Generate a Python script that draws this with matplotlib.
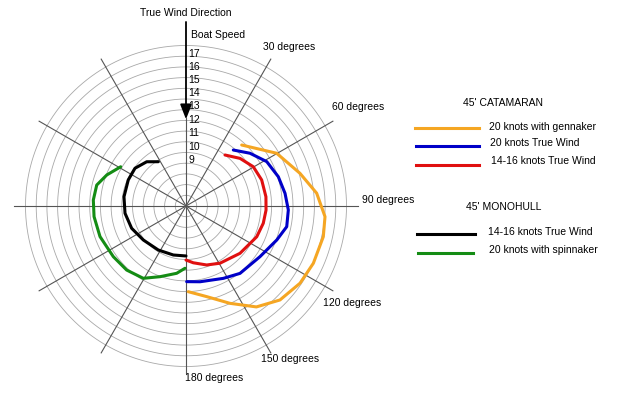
import numpy as np
import matplotlib.pyplot as plt

plt.rcParams['font.family'] = ['Liberation Sans', 'DejaVu Sans']

# polar curves: angle (deg, clockwise from true wind) and radius (ring units)
cat_gennaker_ang = [42.4, 59.8, 74.0, 84.4, 94.4, 102.6, 114.2, 124.1, 135.0, 145.1, 155.7, 167.1, 178.5]
cat_gennaker_r = [7.72, 9.80, 11.08, 12.27, 13.03, 13.15, 13.05, 12.87, 12.42, 11.50, 9.98, 8.69, 8.01]

cat_20_ang = [40.2, 50.5, 61.2, 72.4, 82.7, 92.2, 101.6, 110.5, 124.4, 141.3, 152.7, 169.5, 179.5]
cat_20_r = [6.85, 7.75, 8.61, 9.05, 9.33, 9.57, 9.61, 9.06, 8.38, 8.07, 7.61, 7.20, 7.07]

cat_1416_ang = [37.4, 48.6, 59.7, 71.0, 83.4, 92.9, 102.6, 113.5, 131.2, 149.3, 160.7, 172.7, 180.0]
cat_1416_r = [6.00, 6.73, 7.28, 7.48, 7.52, 7.49, 7.40, 7.21, 6.71, 6.22, 5.84, 5.35, 5.05]

mono_1416_ang = [328.0, 318.4, 306.5, 294.3, 278.5, 263.2, 247.7, 231.5, 212.2, 194.5, 180.0]
mono_1416_r = [4.88, 5.53, 5.93, 5.92, 5.86, 5.74, 5.49, 5.10, 4.86, 4.73, 4.67]

mono_spin_ang = [301.0, 291.4, 283.2, 273.7, 263.4, 250.4, 235.1, 222.8, 210.6, 200.2, 187.9, 180.9]
mono_spin_r = [7.12, 7.95, 8.57, 8.68, 8.65, 8.53, 8.28, 8.16, 7.85, 7.04, 6.35, 5.82]

speed_labels = ['9', '10', '11', '12', '13', '14', '15', '16', '17']
angle_labels = ['30 degrees', '60 degrees', '90 degrees', '120 degrees', '150 degrees', '180 degrees']

u = 10.7  # pixels per ring
fig = plt.figure(figsize=(6.2, 3.98), dpi=100)
ax = fig.add_axes([0, 0, 1, 1])
ax.set_xlim(-186 / u, 434 / u)
ax.set_ylim(-192 / u, 206 / u)
ax.set_aspect('equal')
ax.axis('off')


def to_xy(ang, r):
    a = np.radians(np.asarray(ang, dtype=float))
    r = np.asarray(r, dtype=float)
    return r * np.sin(a), r * np.cos(a)


# rings
t = np.linspace(0, 360, 361)
for ring in range(1, 16):
    x, y = to_xy(t, np.full_like(t, ring))
    ax.plot(x, y, color='#a8a8a8', lw=0.6, zorder=1)

# spokes
for a in range(30, 360, 30):
    if a == 180:
        continue
    ln = 16.05 if a in (90, 270) else 15.85
    x, y = to_xy([a, a], [0, ln])
    ax.plot(x, y, color='#555555', lw=0.8, zorder=2)
ax.plot([0, 0], [-15.6, 8.2], color='#555555', lw=0.8, zorder=2)
ax.annotate('', xy=(0, 8.1), xytext=(0, 17.2),
            arrowprops=dict(arrowstyle='-|>,head_length=0.9,head_width=0.35',
                            color='black', lw=1.3, shrinkA=0, shrinkB=0), zorder=3)

# curves
curves = [
    (cat_gennaker_ang, cat_gennaker_r, '#f5a623'),
    (cat_20_ang, cat_20_r, '#0000c8'),
    (cat_1416_ang, cat_1416_r, '#e01010'),
    (mono_1416_ang, mono_1416_r, 'black'),
    (mono_spin_ang, mono_spin_r, '#148c14'),
]
for ang, r, c in curves:
    x, y = to_xy(ang, r)
    ax.plot(x, y, color=c, lw=2.2, solid_capstyle='round', solid_joinstyle='round', zorder=4)

fs = 7.5
# speed labels along the wind axis
speed_pos = [4.3, 5.55, 6.8, 8.05, 9.3, 10.55, 11.8, 13.0, 14.2]
for lab, p in zip(speed_labels, speed_pos):
    ax.text(0.25, p, lab, fontsize=fs, ha='left', va='center', zorder=5)


def ftext(px, py, s, **kw):
    fig.text(px / 620, 1 - py / 398, s, fontsize=fs, va='center', **kw)


ftext(186, 13, 'True Wind Direction', ha='center')
ftext(191, 35, 'Boat Speed', ha='left')
label_px = [(263, 47), (332, 107), (362, 200), (323, 303), (261, 359), (185, 378)]
for (px, py), s in zip(label_px, angle_labels):
    ftext(px, py, s, ha='left')

# legend
ftext(503, 103, "45' CATAMARAN", ha='center')
ftext(504, 207, "45' MONOHULL", ha='center')
leg = [
    ('20 knots with gennaker', '#f5a623', 415, 479, 128, 489, 127),
    ('20 knots True Wind', '#0000c8', 416, 479, 146, 490, 143),
    ('14-16 knots True Wind', '#e01010', 416, 479, 165, 491, 161),
    ('14-16 knots True Wind', 'black', 417, 475, 234, 488, 232),
    ('20 knots with spinnaker', '#148c14', 418, 473, 253, 489, 250),
]
for s, c, x0, x1, ly, tx, ty in leg:
    fig.add_artist(plt.Line2D([x0 / 620, x1 / 620], [1 - ly / 398, 1 - ly / 398],
                              color=c, lw=2.2, transform=fig.transFigure))
    ftext(tx, ty, s, ha='left')

fig.savefig('out.png', dpi=100)
